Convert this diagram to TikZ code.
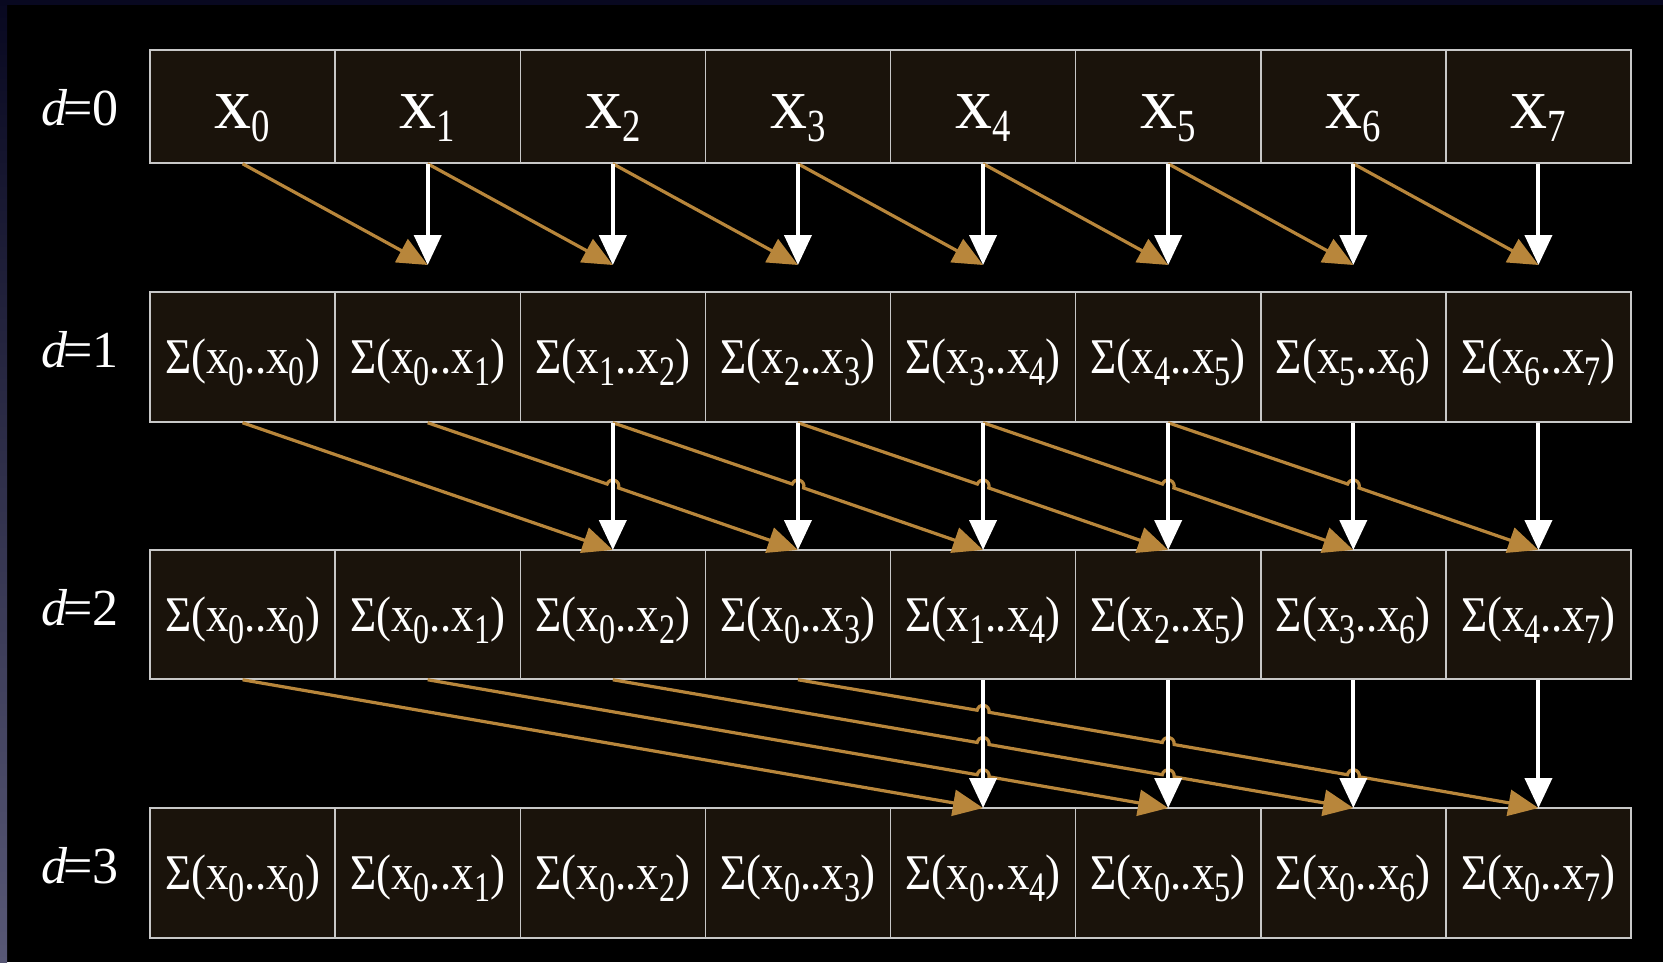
\documentclass[tikz,border=0pt]{standalone}
\usepackage{fontspec}
\setmainfont{Liberation Serif}
\usetikzlibrary{arrows.meta,calc}
\definecolor{cellfill}{RGB}{26,19,11}
\definecolor{cellline}{RGB}{200,200,200}
\definecolor{gold}{RGB}{184,134,59}
\definecolor{navy}{RGB}{8,8,32}
\definecolor{navylight}{RGB}{88,88,118}
\newcommand\subA[1]{\raisebox{-13pt}{\scalebox{0.8}[1]{\fontsize{46}{46}\selectfont #1}}}
\newcommand\subB[1]{\raisebox{-12pt}{\scalebox{0.85}[1]{\fontsize{42}{42}\selectfont #1}}}
\newcommand\sumtext[2]{\scalebox{0.9}[1]{\fontsize{50}{50}\selectfont Σ(x\subB{#1}.\kern-1pt.x\subB{#2})}}
\tikzset{
  cell/.style={rectangle, draw=cellline, fill=cellfill, line width=1.5pt,
    minimum width=185.125pt, inner sep=0pt},
  celltext/.style={text=white, inner sep=0pt, anchor=base},
  rowlabel/.style={text=white, inner sep=0pt, anchor=base, font=\fontsize{52}{52}\selectfont},
  whitearrow/.style={draw=white, line width=4pt, -{Triangle[length=30pt,width=27pt]}},
  goldarrow/.style={draw=gold, line width=3.2pt, -{Triangle[length=30pt,width=26pt]}},
}
\begin{document}
\begin{tikzpicture}[x=1pt,y=1pt]
\fill[black] (0,0) rectangle (1663,-962);
\useasboundingbox (0,0) rectangle (1663,-962);
\fill[navy] (0,0) rectangle (1663,-5);
\shade[top color=navy, bottom color=navylight] (0,0) rectangle (7,-962);

% cells and texts
\foreach \d/\T/\B in {0/50/163, 1/292/422, 2/550/679, 3/808/938} {
  \node[rowlabel] (l-\d) at (80,{-(\T+75)}) {\textit{d}\kern-4pt=\d};
  \foreach \k in {0,...,7} {
    \pgfmathsetmacro\cx{242.5625+185.125*\k}
    \pgfmathtruncatemacro\a{max(0,\k-2^\d+1)}
    \node[cell, minimum height={\B-\T}] (c-\d-\k) at (\cx,{-(\T+\B)/2}) {};
    \ifnum\d=0
      \node[celltext] (t-\d-\k) at (\cx,{-(\T+78)}) {\fontsize{74}{74}\selectfont x\subA{\k}};
    \else
      \node[celltext] (t-\d-\k) at (\cx,{-(\T+81)}) {\sumtext{\a}{\k}};
    \fi
  }
}

% arrow end coordinates
\foreach \d/\E in {0/265, 1/550, 2/808} {
  \foreach \k in {0,...,7} {
    \pgfmathsetmacro\cx{242.5625+185.125*\k}
    \coordinate (e-\d-\k) at (\cx,-\E);
  }
}

\def\hr{6}
% gold arrows with hops
\foreach \d/\s/\E/\B in {0/1/265/163, 1/2/550/422, 2/4/808/679} {
  \pgfmathtruncatemacro\last{7-\s}
  \foreach \k in {0,...,\last} {
    \pgfmathtruncatemacro\m{\k+\s}
    \pgfmathsetmacro\xa{242.5625+185.125*\k}
    \pgfmathsetmacro\xb{242.5625+185.125*\m}
    \pgfmathsetmacro\ya{-\B}
    \pgfmathsetmacro\yb{-\E}
    \pgfmathsetmacro\L{veclen(\xb-\xa,\yb-\ya)}
    \pgfmathsetmacro\ux{(\xb-\xa)/\L}
    \pgfmathsetmacro\uy{(\yb-\ya)/\L}
    \pgfmathsetmacro\ph{atan2(\yb-\ya,\xb-\xa)}
    \pgfmathsetmacro\phA{\ph+180}
    \pgfmathtruncatemacro\jfrom{max(\k+1,\s)}
    \pgfmathtruncatemacro\jto{\k+\s-1}
    \gdef\hp{}
    \ifnum\jfrom>\jto\relax\else
      \foreach \j in {\jfrom,...,\jto} {
        \pgfmathsetmacro\t{(\j-\k)/\s}
        \pgfmathsetmacro\px{\xa+(\xb-\xa)*\t}
        \pgfmathsetmacro\py{\ya+(\yb-\ya)*\t}
        \pgfmathsetmacro\hx{\px-\hr*\ux}
        \pgfmathsetmacro\hy{\py-\hr*\uy}
        \xdef\hp{\hp -- (\hx,\hy) arc[start angle=\phA, end angle=\ph, radius=\hr pt]}
      }
    \fi
    \draw[goldarrow] (c-\d-\k.south) \hp -- (e-\d-\m);
  }
}

% white arrows
\foreach \d/\s in {0/1, 1/2, 2/4} {
  \foreach \k in {\s,...,7} {
    \draw[whitearrow] (c-\d-\k.south) -- (e-\d-\k);
  }
}
\end{tikzpicture}
\end{document}
